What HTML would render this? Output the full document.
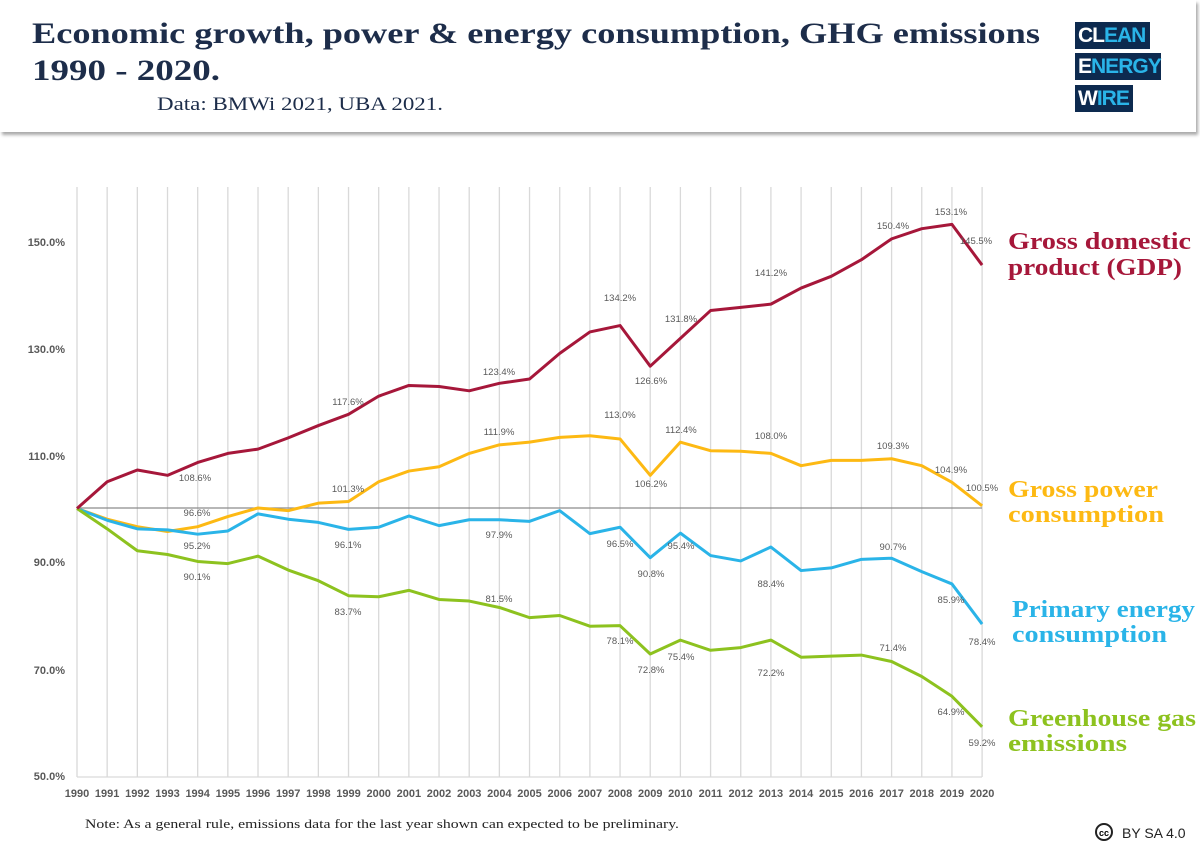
<!DOCTYPE html>
<html><head><meta charset="utf-8"><style>
body{margin:0;width:1200px;height:848px;background:#fff;overflow:hidden;position:relative;font-family:"Liberation Serif",serif}
.hdr{position:absolute;left:0;top:0;width:1196px;height:132px;background:#fff;box-shadow:2px 3px 3px #aaa;}
.logo div{position:absolute;left:1075px;height:27px;background:#0d2a4f;color:#2ab4e8;font:bold 21px "Liberation Sans",sans-serif;line-height:27px;padding-left:3px;letter-spacing:-1px}
.logo b{color:#fff}
</style></head><body>
<div class="hdr"></div>
<div class="logo"><div style="top:22px;width:72px"><b>CL</b>EAN</div><div style="top:53px;width:83px"><b>E</b>NERGY</div><div style="top:85px;width:55px"><b>W</b>IRE</div></div>
<svg id="s" width="1200" height="848" style="position:absolute;left:0;top:0" font-family="Liberation Sans, sans-serif">
<g font-family="Liberation Serif, serif" fill="#1d2d4a">
<text x="32" y="43" font-size="30" font-weight="bold" textLength="1008" lengthAdjust="spacingAndGlyphs">Economic growth, power &amp; energy consumption, GHG emissions</text>
<text x="32" y="80" font-size="30" font-weight="bold" textLength="188" lengthAdjust="spacingAndGlyphs">1990 - 2020.</text>
<text x="157" y="110" font-size="19" textLength="286" lengthAdjust="spacingAndGlyphs">Data: BMWi 2021, UBA 2021.</text>
</g>
<g font-size="11" font-weight="bold" fill="#595959" text-anchor="end">
<text x="65" y="246">150.0%</text><text x="65" y="353">130.0%</text><text x="65" y="460">110.0%</text><text x="65" y="566">90.0%</text><text x="65" y="674">70.0%</text><text x="65" y="780">50.0%</text>
</g>
<g id="grid"></g>
<g id="lines"></g>
<g font-size="9.5" fill="#595959" text-anchor="middle">
<text x="195" y="481">108.6%</text><text x="348" y="405">117.6%</text><text x="499" y="375">123.4%</text><text x="620" y="301">134.2%</text><text x="651" y="384">126.6%</text><text x="681" y="322">131.8%</text><text x="771" y="276">141.2%</text><text x="893" y="229">150.4%</text><text x="951" y="215">153.1%</text><text x="976" y="244">145.5%</text>
<text x="197" y="516">96.6%</text><text x="348" y="492">101.3%</text><text x="499" y="435">111.9%</text><text x="620" y="418">113.0%</text><text x="651" y="487">106.2%</text><text x="681" y="433">112.4%</text><text x="771" y="439">108.0%</text><text x="893" y="449">109.3%</text><text x="951" y="473">104.9%</text><text x="982" y="491">100.5%</text>
<text x="197" y="549">95.2%</text><text x="348" y="548">96.1%</text><text x="499" y="538">97.9%</text><text x="620" y="547">96.5%</text><text x="651" y="577">90.8%</text><text x="681" y="549">95.4%</text><text x="771" y="587">88.4%</text><text x="893" y="550">90.7%</text><text x="951" y="603">85.9%</text><text x="982" y="645">78.4%</text>
<text x="197" y="580">90.1%</text><text x="348" y="615">83.7%</text><text x="499" y="602">81.5%</text><text x="620" y="644">78.1%</text><text x="651" y="673">72.8%</text><text x="681" y="660">75.4%</text><text x="771" y="676">72.2%</text><text x="893" y="651">71.4%</text><text x="951" y="715">64.9%</text><text x="982" y="746">59.2%</text>
</g>
<g font-size="11" font-weight="bold" fill="#595959" text-anchor="middle" id="yrs"></g>
<g font-family="Liberation Serif, serif" font-weight="bold" font-size="24">
<text x="1008" y="249" fill="#a6173a" textLength="183" lengthAdjust="spacingAndGlyphs">Gross domestic</text><text x="1008" y="275" fill="#a6173a" textLength="174" lengthAdjust="spacingAndGlyphs">product (GDP)</text>
<text x="1008" y="497" fill="#fdb913" textLength="150" lengthAdjust="spacingAndGlyphs">Gross power</text><text x="1008" y="522" fill="#fdb913" textLength="156" lengthAdjust="spacingAndGlyphs">consumption</text>
<text x="1012" y="617" fill="#2ab4e8" textLength="183" lengthAdjust="spacingAndGlyphs">Primary energy</text><text x="1012" y="642" fill="#2ab4e8" textLength="155" lengthAdjust="spacingAndGlyphs">consumption</text>
<text x="1008" y="726" fill="#8dc21f" textLength="188" lengthAdjust="spacingAndGlyphs">Greenhouse gas</text><text x="1008" y="751" fill="#8dc21f" textLength="119" lengthAdjust="spacingAndGlyphs">emissions</text>
</g>
<text x="85" y="828" font-family="Liberation Serif, serif" font-size="13" fill="#222" textLength="594" lengthAdjust="spacingAndGlyphs">Note: As a general rule, emissions data for the last year shown can expected to be preliminary.</text>
<circle cx="1104" cy="832" r="8" fill="none" stroke="#222" stroke-width="2"/><text x="1104" y="836" font-size="9" font-weight="bold" text-anchor="middle">cc</text>
<text x="1122" y="838" font-size="14" fill="#222">BY SA 4.0</text>
</svg>
<script>
const X=i=>77+i*30.17, Y=v=>508.5-(v-100)*5.35;
let g='',yr='';
for(let i=0;i<=30;i++){g+=`<line x1="${X(i)}" y1="187" x2="${X(i)}" y2="777" stroke="#d9d9d9" stroke-width="1.3"/>`;yr+=`<text x="${X(i)}" y="797">${1990+i}</text>`;}
g+=`<line x1="77" y1="777" x2="982" y2="777" stroke="#d9d9d9" stroke-width="1.3"/><line x1="77" y1="508" x2="982" y2="508" stroke="#8c8c8c" stroke-width="1.3"/>`;
document.getElementById('grid').innerHTML=g;document.getElementById('yrs').innerHTML=yr;
const D=[["#fdb913",[100,98,96.6,95.7,96.6,98.5,100.1,99.6,101,101.3,105,107,107.8,110.3,111.9,112.4,113.3,113.6,113.0,106.2,112.4,110.8,110.7,110.3,108.0,109.0,109.0,109.3,108.0,104.9,100.5]],
["#2ab4e8",[100,97.8,96.2,96.0,95.2,95.8,99.0,98.0,97.4,96.1,96.5,98.6,96.8,97.9,97.9,97.6,99.6,95.3,96.5,90.8,95.4,91.2,90.2,92.8,88.4,88.9,90.5,90.7,88.2,85.9,78.4]],
["#8dc21f",[100,96.2,92.1,91.4,90.1,89.7,91.1,88.5,86.5,83.7,83.5,84.7,83.0,82.7,81.5,79.6,80.0,78.0,78.1,72.8,75.4,73.5,74.0,75.4,72.2,72.4,72.6,71.4,68.6,64.9,59.2]],
["#a6173a",[100,105,107.2,106.2,108.6,110.3,111.1,113.2,115.5,117.6,121,123,122.8,122,123.4,124.2,129,133,134.2,126.6,131.8,137,137.6,138.2,141.2,143.4,146.5,150.4,152.3,153.1,145.5]]];
let l='';for(const [c,a] of D){l+=`<polyline fill="none" stroke="${c}" stroke-width="3" stroke-linejoin="round" points="${a.map((v,i)=>X(i)+','+Y(v)).join(' ')}"/>`;}
document.getElementById('lines').innerHTML=l;
</script>
</body></html>
